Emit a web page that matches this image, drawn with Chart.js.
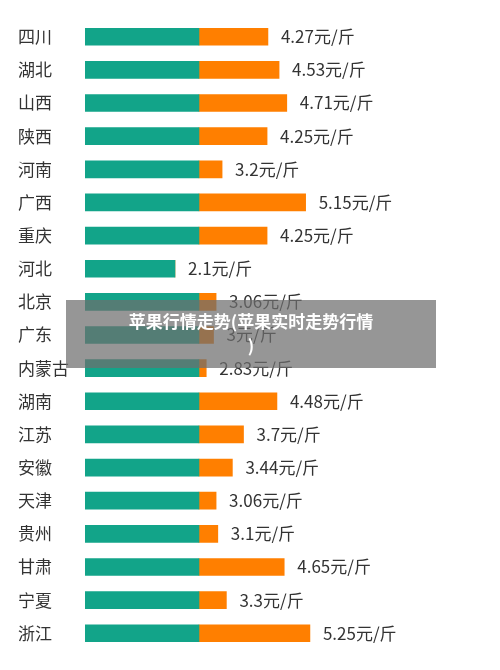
<!DOCTYPE html>
<html>
<head>
<meta charset="utf-8">
<script src="https://cdn.jsdelivr.net/npm/chart.js@4"></script>
<style>
  html, body { margin: 0; padding: 0; background: #fff; }
  #wrap { position: relative; width: 500px; height: 670px; overflow: hidden; }
  #banner {
    position: absolute; left: 66px; top: 300px; width: 370px; height: 68px;
    background: rgba(110,110,110,0.72); color: #fff;
    font: bold 17px "Noto Sans CJK SC", sans-serif; text-align: center;
    line-height: 24px; padding-top: 9px; box-sizing: border-box;
  }
</style>
</head>
<body>
<div id="wrap">
  <canvas id="c" width="500" height="670"></canvas>
  <div id="banner">苹果行情走势(苹果实时走势行情<br>)</div>
</div>
<script>
// provinces and price (元/斤)
const provinces = ['四川', '湖北', '山西', '陕西', '河南', '广西', '重庆', '河北', '北京', '广东',
  '内蒙古', '湖南', '江苏', '安徽', '天津', '贵州', '甘肃', '宁夏', '浙江'];
const prices = [4.27, 4.53, 4.71, 4.25, 3.2, 5.15, 4.25, 2.1, 3.06, 3,
  2.83, 4.48, 3.7, 3.44, 3.06, 3.1, 4.65, 3.3, 5.25];
const splitAt = 2.66;

const baseVals = prices.map(v => Math.min(v, splitAt));
const extraVals = prices.map(v => Math.max(v - splitAt, 0));

// value labels at the end of each bar
const endLabels = {
  id: 'endLabels',
  afterDatasetsDraw(chart) {
    const ctx = chart.ctx;
    const x = chart.scales.x;
    const y = chart.scales.y;
    ctx.save();
    ctx.font = '17px "Noto Sans CJK SC", sans-serif';
    ctx.fillStyle = '#333';
    ctx.textBaseline = 'middle';
    prices.forEach((v, i) => {
      ctx.fillText(v + '元/斤', x.getPixelForValue(v) + 13, y.getPixelForValue(i));
    });
    ctx.restore();
  }
};

new Chart(document.getElementById('c'), {
  type: 'bar',
  data: {
    labels: provinces,
    datasets: [
      { data: baseVals, backgroundColor: '#12a489', barThickness: 17 },
      { data: extraVals, backgroundColor: '#ff7f00', barThickness: 17 }
    ]
  },
  options: {
    indexAxis: 'y',
    responsive: false,
    animation: false,
    layout: { padding: { top: -26, bottom: -33, right: 8, left: 18 } },
    plugins: { legend: { display: false }, tooltip: { enabled: false } },
    scales: {
      x: { stacked: true, display: false, min: 0, max: 9.5 },
      y: {
        stacked: true,
        grid: { display: false },
        border: { display: false },
        afterFit(s) { s.width = 67; },
        ticks: {
          crossAlign: 'far', padding: 10, color: '#333',
          font: { size: 17, family: '"Noto Sans CJK SC", sans-serif' }
        }
      }
    }
  },
  plugins: [endLabels]
});
</script>
</body>
</html>
